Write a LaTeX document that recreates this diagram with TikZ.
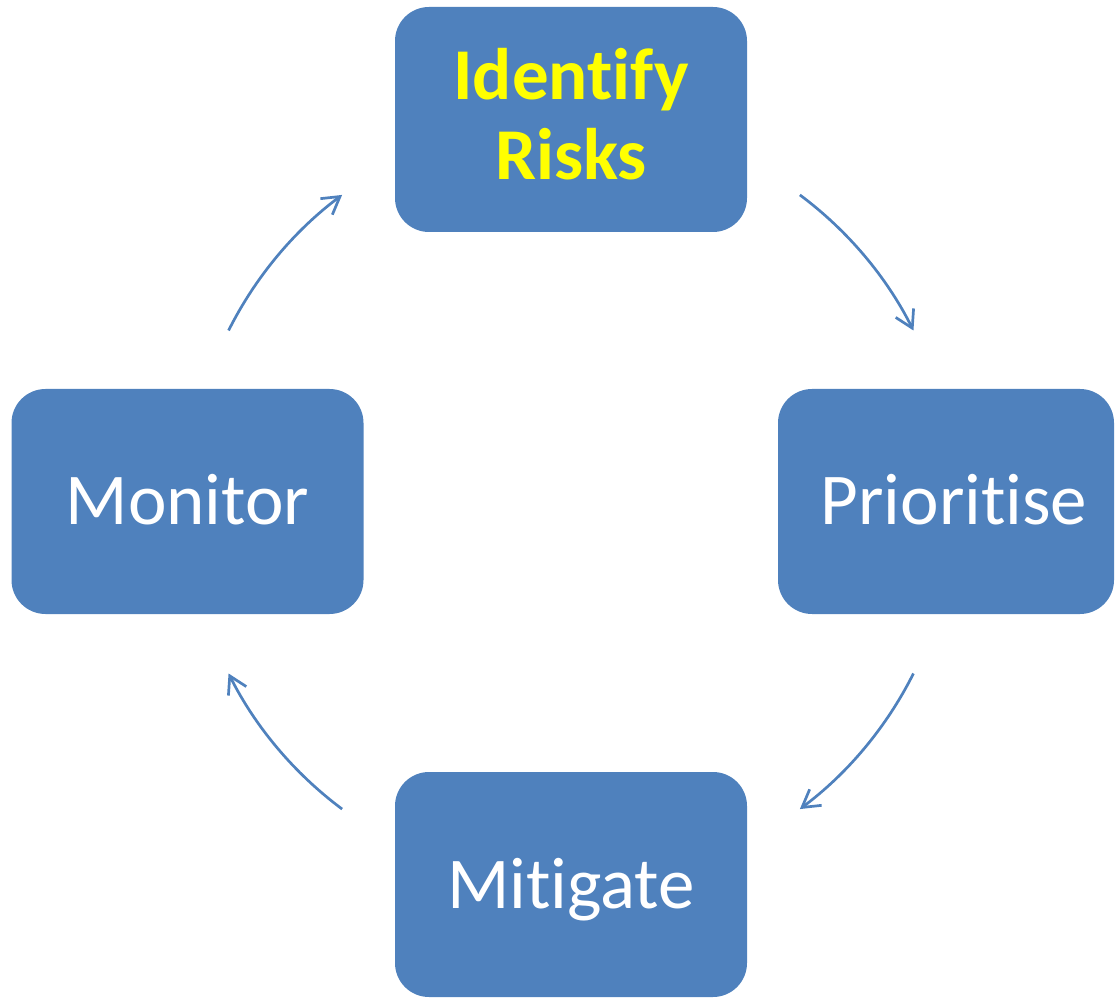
\documentclass[tikz,border=0pt]{standalone}
\usepackage{fontspec}
\setmainfont{Carlito}[RawFeature={-liga;-clig;-dlig}]
\usetikzlibrary{arrows.meta}
\definecolor{boxblue}{HTML}{4F81BD}
\definecolor{hiyellow}{HTML}{FFFF00}
\begin{document}
\begin{tikzpicture}[x=1pt,y=1pt,
  stage/.style={fill=boxblue, draw=none, rounded corners=34pt, minimum width=352pt,
    minimum height=225pt, inner sep=0pt, text=white,
    font=\fontsize{73}{80}\selectfont, text height=47pt, text depth=0pt},
  cyc/.style={draw=boxblue, line width=2.7pt,
    -{Straight Barb[length=17pt,width=20pt]}}]
\useasboundingbox (0,0) rectangle (1116,997);
\node[stage, text=hiyellow, font=\fontsize{73}{80}\selectfont\bfseries,
  align=center, text height=127pt, text depth=7pt] (identify) at (571,877.5) {Identify\\Risks};
\node[stage, minimum width=336pt] (prioritise) at (946,495.5) {\hspace*{16pt}Prioritise};
\node[stage] (mitigate) at (571,112.5) {Mitigate};
\node[stage] (monitor) at (187.5,495.5) {Monitor};
\coordinate (hub) at (571,495);
\coordinate (a1) at ([shift={(53.3:383)}]hub);
\coordinate (a2) at ([shift={(-26.6:383)}]hub);
\coordinate (a3) at ([shift={(233.3:383)}]hub);
\coordinate (a4) at ([shift={(153.4:383)}]hub);
\draw[cyc] (a1) arc[start angle=53.3, end angle=26.6, radius=383];
\draw[cyc] (a2) arc[start angle=-26.6, end angle=-53.3, radius=383];
\draw[cyc] (a3) arc[start angle=233.3, end angle=206.6, radius=383];
\draw[cyc] (a4) arc[start angle=153.4, end angle=126.7, radius=383];
\end{tikzpicture}
\end{document}
